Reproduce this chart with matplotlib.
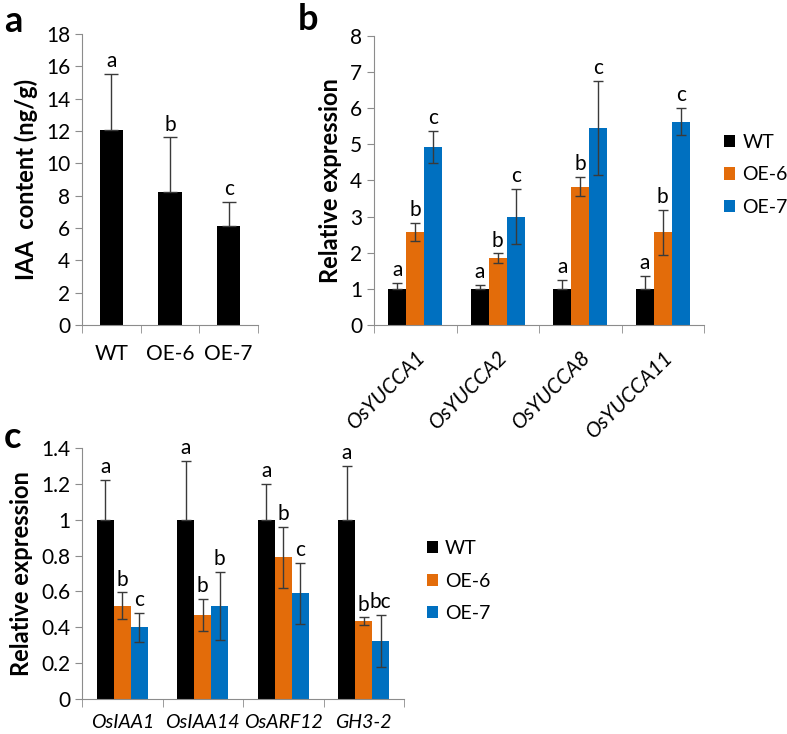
import matplotlib
matplotlib.use("Agg")
import matplotlib.pyplot as plt
import numpy as np

plt.rcParams['font.family'] = ['Lato', 'DejaVu Sans']

# panel a
a_groups = ['WT', 'OE-6', 'OE-7']
a_vals = [12.05, 8.2, 6.15]
a_err = [3.5, 3.4, 1.45]
a_letters = ['a', 'b', 'c']

# panel b
b_genes = ['OsYUCCA1', 'OsYUCCA2', 'OsYUCCA8', 'OsYUCCA11']
b_wt = [1.0, 1.0, 1.0, 1.0]
b_oe6 = [2.58, 1.85, 3.83, 2.57]
b_oe7 = [4.93, 3.0, 5.45, 5.63]
b_wt_err = [0.17, 0.1, 0.25, 0.37]
b_oe6_err = [0.25, 0.13, 0.27, 0.62]
b_oe7_err = [0.45, 0.76, 1.3, 0.38]
b_letters = [['a', 'a', 'a', 'a'], ['b', 'b', 'b', 'b'], ['c', 'c', 'c', 'c']]

# panel c
c_genes = ['OsIAA1', 'OsIAA14', 'OsARF12', 'GH3-2']
c_wt = [1.0, 1.0, 1.0, 1.0]
c_oe6 = [0.52, 0.47, 0.79, 0.435]
c_oe7 = [0.40, 0.52, 0.59, 0.325]
c_wt_err = [0.22, 0.33, 0.2, 0.3]
c_oe6_err = [0.075, 0.09, 0.17, 0.02]
c_oe7_err = [0.08, 0.19, 0.17, 0.145]
c_letters = [['a', 'a', 'a', 'a'], ['b', 'b', 'b', 'b'], ['c', 'b', 'c', 'bc']]

series = ['WT', 'OE-6', 'OE-7']
colors = ['#000000', '#E36C0A', '#0070C0']
ecol = '#3a3a3a'
spine_col = '#8c8c8c'
TICK_FS = 15
LAB_FS = 17

W, H = 787, 734
fig = plt.figure(figsize=(W / 100, H / 100), dpi=100)


def px_axes(l, t, r, b):
    return fig.add_axes([l / W, 1 - b / H, (r - l) / W, (b - t) / H])


def style(ax, n, pad, fs=TICK_FS):
    for s in ['top', 'right']:
        ax.spines[s].set_visible(False)
    for s in ['left', 'bottom']:
        ax.spines[s].set_color(spine_col)
    ax.set_xlim(-0.5, n - 0.5)
    ax.set_xticks(np.arange(n))
    ax.set_xticks(np.arange(n + 1) - 0.5, minor=True)
    ax.tick_params(axis='x', which='major', length=0, labelsize=fs, pad=pad)
    ax.tick_params(axis='x', which='minor', length=6, color=spine_col)
    ax.tick_params(axis='y', length=5, color=spine_col, labelsize=TICK_FS)


def letter(ax, x, top, s):
    ax.annotate(s, (x, top), xytext=(0, 2), textcoords='offset points',
                ha='center', va='bottom', fontsize=15)


# ---- panel a
ax = px_axes(82, 34, 258, 325)
x = np.arange(len(a_groups))
ax.bar(x, a_vals, width=0.4, color='black')
ax.errorbar(x, a_vals, yerr=[np.zeros(3), a_err], fmt='none', ecolor=ecol,
            elinewidth=1, capsize=5)
for i in range(3):
    letter(ax, x[i], a_vals[i] + a_err[i], a_letters[i])
ax.set_ylim(0, 18)
ax.set_yticks(np.arange(0, 19, 2))
style(ax, 3, 14)
ax.set_xticklabels(a_groups)
ax.set_ylabel('IAA  content (ng/g)', fontsize=LAB_FS, fontweight='bold', labelpad=6)


def grouped(ax, vals, errs, letters, bw, n):
    x = np.arange(n)
    for k in range(3):
        xs = x + (k - 1) * bw
        ax.bar(xs, vals[k], width=bw, color=colors[k], label=series[k])
        err = np.array(errs[k])
        lower = np.zeros(n) if k == 0 else err
        ax.errorbar(xs, vals[k], yerr=[lower, err], fmt='none', ecolor=ecol,
                    elinewidth=1, capsize=3.5)
        for i in range(n):
            letter(ax, xs[i], vals[k][i] + errs[k][i], letters[k][i])


leg_kw = dict(loc='center left', frameon=False, fontsize=14,
              handlelength=0.6, handleheight=0.6, handletextpad=0.35,
              labelspacing=0.8, borderaxespad=0, borderpad=0)

# ---- panel b
ax = px_axes(374, 36, 704, 325)
grouped(ax, [b_wt, b_oe6, b_oe7], [b_wt_err, b_oe6_err, b_oe7_err],
        b_letters, 0.22, 4)
ax.set_ylim(0, 8)
ax.set_yticks(np.arange(0, 9, 1))
style(ax, 4, 16)
ax.set_xticklabels(b_genes, rotation=45, ha='right', rotation_mode='anchor',
                   fontstyle='italic')
ax.set_ylabel('Relative expression', fontsize=LAB_FS, fontweight='bold', labelpad=6)
ax.legend(bbox_to_anchor=(1.06, 0.52), **leg_kw)

# ---- panel c
ax = px_axes(82, 448, 404, 699)
grouped(ax, [c_wt, c_oe6, c_oe7], [c_wt_err, c_oe6_err, c_oe7_err],
        c_letters, 0.21, 4)
ax.set_ylim(0, 1.4)
ax.set_yticks(np.arange(0, 1.41, 0.2))
ax.set_yticklabels(['0', '0.2', '0.4', '0.6', '0.8', '1', '1.2', '1.4'])
style(ax, 4, 11, fs=14)
ax.set_xticklabels(c_genes, fontstyle='italic')
ax.set_ylabel('Relative expression', fontsize=LAB_FS, fontweight='bold', labelpad=6)
ax.legend(bbox_to_anchor=(1.07, 0.47), **leg_kw)

# panel letters
fig.text(4 / W, 1 - 22 / H, 'a', fontsize=26, fontweight='bold', va='center')
fig.text(298 / W, 1 - 20 / H, 'b', fontsize=26, fontweight='bold', va='center')
fig.text(4 / W, 1 - 437 / H, 'c', fontsize=26, fontweight='bold', va='center')

fig.savefig('out.png', dpi=100)
